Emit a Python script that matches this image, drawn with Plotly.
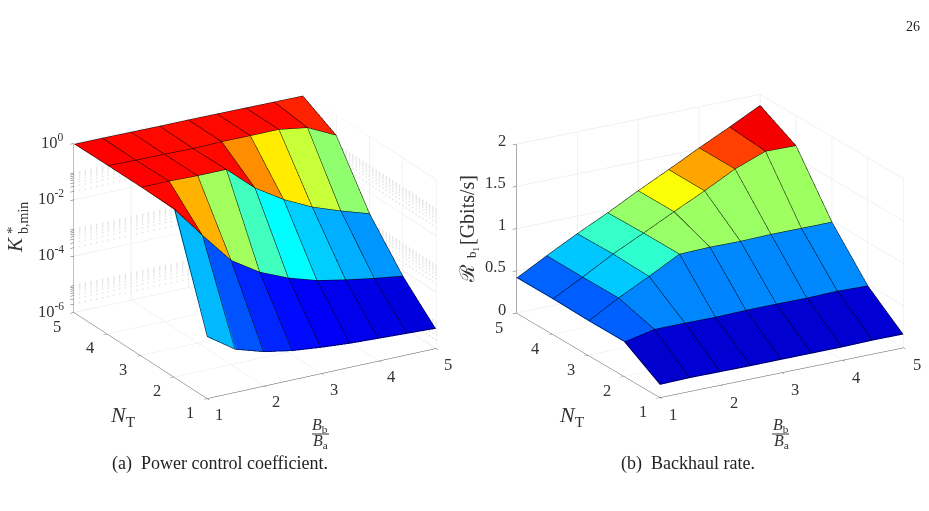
import math
import plotly.graph_objects as go

# Bandwidth ratio and antenna count sampled in the study
bandwidth_ratio = [1, 1.5, 2, 2.5, 3, 3.5, 4, 4.5, 5]
antennas = [1, 2, 3, 4, 5]

# log10 of the minimum power control coefficient, one row per antenna count
k_log10_nt1 = [-3.82, -4.49, -4.80, -4.98, -5.085, -5.165, -5.21, -5.255, -5.30]
k_log10_nt2 = [-0.05, -1.19, -2.30, -2.94, -3.37, -3.68, -3.88, -4.05, -4.19]
k_log10_nt3 = [-0.01, -0.03, -0.06, -0.06, -0.94, -1.57, -2.06, -2.42, -2.74]
k_log10_nt4 = [-0.01, -0.05, -0.06, -0.08, -0.06, -0.07, -0.07, -0.23, -0.72]
k_log10_nt5 = [-0.02, -0.03, -0.04, -0.05, -0.05, -0.06, -0.07, -0.08, -0.09]

# Backhaul rate in Gbits/s, one row per antenna count
rate_nt1 = [0.150, 0.158, 0.155, 0.152, 0.153, 0.153, 0.153, 0.160, 0.158]
rate_nt2 = [0.41, 0.485, 0.486, 0.481, 0.49, 0.49, 0.487, 0.495, 0.484]
rate_nt3 = [0.408, 0.606, 0.788, 0.978, 0.987, 0.983, 0.991, 0.989, 0.989]
rate_nt4 = [0.418, 0.603, 0.803, 0.977, 1.156, 1.329, 1.515, 1.65, 1.643]
rate_nt5 = [0.416, 0.606, 0.793, 0.967, 1.154, 1.331, 1.514, 1.688, 1.87]

x_ticks = [1, 2, 3, 4, 5]
y_ticks = [1, 2, 3, 4, 5]
k_tick_exponents = [-6, -4, -2, 0]
rate_ticks = [0, 0.5, 1, 1.5, 2]
rate_tick_labels = ["0", "0.5", "1", "1.5", "2"]

W, H = 929, 511
SERIF = "Liberation Serif"
INK = "#333333"
NBSP = "\u00a0"
JET = [[0, "rgb(0,0,128)"], [0.125, "rgb(0,0,255)"], [0.375, "rgb(0,255,255)"],
       [0.625, "rgb(255,255,0)"], [0.875, "rgb(255,0,0)"], [1, "rgb(128,0,0)"]]

LEFT_VIEW = (-30.2, 22.07)
RIGHT_VIEW = (-30.5, 20.3)
LEFT_ASPECT = (1.325, 1.325, 0.912)
RIGHT_ASPECT = (1.415, 1.415, 0.90)


def view_dir(view):
    az, el = math.radians(view[0]), math.radians(view[1])
    return math.sin(az) * math.cos(el), -math.cos(az) * math.cos(el), math.sin(el)


def faceted_surface(rows, colour_rows, cmin, cmax, scene, view, aspect, z_span, z_top, log_z=False):
    """Flat-coloured quads with black edges; a face takes its lowest-index corner's colour."""
    nx, ny = len(bandwidth_ratio), len(antennas)
    vx, vy, vz = [], [], []
    for j in range(ny):
        for i in range(nx):
            vx.append(bandwidth_ratio[i])
            vy.append(antennas[j])
            vz.append(rows[j][i])
    ti, tj, tk, cell = [], [], [], []
    for j in range(ny - 1):
        for i in range(nx - 1):
            a = j * nx + i
            b, c, d = a + 1, a + nx + 1, a + nx
            ti += [a, a]
            tj += [b, c]
            tk += [c, d]
            cell += [colour_rows[j][i]] * 2
    mesh = go.Mesh3d(x=vx, y=vy, z=vz, i=ti, j=tj, k=tk, intensity=cell, intensitymode="cell",
                     colorscale=JET, cmin=cmin, cmax=cmax, showscale=False, flatshading=True,
                     lighting=dict(ambient=1, diffuse=0, specular=0, fresnel=0, roughness=1),
                     hoverinfo="skip", scene=scene)

    # Edges sit a hair towards the viewer so the faces cannot swallow them,
    # but stay inside the axis ranges so they are never clipped
    gap = 0.012
    v = view_dir(view)
    nudge_x = v[0] * gap * 4 / aspect[0]
    nudge_y = v[1] * gap * 4 / aspect[1]
    nudge_z = v[2] * gap * z_span / aspect[2]

    def vertex(i, j):
        z = rows[j][i]
        z = z * 10 ** nudge_z if log_z else z + nudge_z
        return max(bandwidth_ratio[i] + nudge_x, 1), max(antennas[j] + nudge_y, 1), min(z, z_top)

    ex, ey, ez = [], [], []
    for j in range(ny):
        for i in range(nx):
            p = vertex(i, j)
            ex.append(p[0]); ey.append(p[1]); ez.append(p[2])
        ex.append(None); ey.append(None); ez.append(None)
    for i in range(nx):
        for j in range(ny):
            p = vertex(i, j)
            ex.append(p[0]); ey.append(p[1]); ez.append(p[2])
        ex.append(None); ey.append(None); ez.append(None)
    edges = go.Scatter3d(x=ex, y=ey, z=ez, mode="lines", line=dict(color="black", width=1),
                         hoverinfo="skip", showlegend=False, scene=scene)
    return [mesh, edges]


def minor_grid():
    """Dots where the minor gridlines cross on the two rear walls of the first box."""
    gx, gy, gz = [], [], []
    steps = [1 + 0.1 * n for n in range(41)]
    for e in k_tick_exponents[:-1]:
        for m in range(2, 10):
            z = m * 10.0 ** e
            for t in steps:
                gx += [t, 5]
                gy += [5, t]
                gz += [z, z]
    return go.Scatter3d(x=gx, y=gy, z=gz, mode="markers",
                        marker=dict(color="#e6e6e6", size=1, line=dict(width=0)),
                        hoverinfo="skip", showlegend=False, scene="scene")


def decade_grid():
    """Solid gridlines at the labelled decades of the first box."""
    gx, gy, gz = [], [], []
    for e in k_tick_exponents:
        z = 10.0 ** e
        gx += [1, 5, 5, None]
        gy += [5, 5, 1, None]
        gz += [z, z, z, None]
    return go.Scatter3d(x=gx, y=gy, z=gz, mode="lines", line=dict(color="#e4e4e4", width=1),
                        hoverinfo="skip", showlegend=False, scene="scene")


def tick_note(x, y, z, text, dx, dy, anchor="center"):
    return dict(x=x, y=y, z=z, text=text, showarrow=False, xshift=dx, yshift=dy, xanchor=anchor,
                yanchor="middle", font=dict(family=SERIF, size=16.5, color=INK))


def axis(rng, vals=None):
    return dict(range=rng, tickvals=vals, showticklabels=False, ticks="outside", ticklen=4,
                tickcolor="#555555", showline=True, linecolor="#555555", linewidth=1,
                gridcolor="#e4e4e4", gridwidth=1, showbackground=False, zeroline=False,
                showspikes=False, title=dict(text=""))


def camera(view, dist=3.0):
    v = view_dir(view)
    return dict(eye=dict(x=v[0] * dist, y=v[1] * dist, z=v[2] * dist),
                up=dict(x=0, y=0, z=1), center=dict(x=0, y=0, z=0),
                projection=dict(type="orthographic"))


def domain(cx, cy, w=420, h=400):
    return dict(x=[(cx - w / 2) / W, (cx + w / 2) / W],
                y=[1 - (cy + h / 2) / H, 1 - (cy - h / 2) / H])


def page_text(px, py, text, size=16.5, color=INK, angle=0, anchor="center"):
    return dict(x=px / W, y=1 - py / H, xref="paper", yref="paper", text=text, showarrow=False,
                textangle=angle, xanchor=anchor, yanchor="middle",
                font=dict(family=SERIF, size=size, color=color))


def aspect_dict(a):
    return dict(x=a[0], y=a[1], z=a[2])


k_rows = [k_log10_nt1, k_log10_nt2, k_log10_nt3, k_log10_nt4, k_log10_nt5]
k_values = [[10.0 ** e for e in row] for row in k_rows]
rate_rows = [rate_nt1, rate_nt2, rate_nt3, rate_nt4, rate_nt5]

fig = go.Figure()
fig.add_trace(minor_grid())
fig.add_trace(decade_grid())
fig.add_traces(faceted_surface(k_values, k_rows, -5.9, 0.85, "scene", LEFT_VIEW, LEFT_ASPECT, 6, 1.0, log_z=True))
fig.add_traces(faceted_surface(rate_rows, rate_rows, 0.0, 1.87, "scene2", RIGHT_VIEW, RIGHT_ASPECT, 2, 2.0))

left_notes = ([tick_note(t, 1, -6, str(t), 12, -16) for t in x_ticks]
              + [tick_note(1, t, -6, str(t), -17, -14) for t in y_ticks]
              + [tick_note(1, 5, e, f"10<sup>{e}</sup>", -8, 2, "right") for e in k_tick_exponents])
right_notes = ([tick_note(t, 1, 0, str(t), 13, -17) for t in x_ticks]
               + [tick_note(1, t, 0, str(t), -17, -14) for t in y_ticks]
               + [tick_note(1, 5, v, s, -8, 4, "right") for v, s in zip(rate_ticks, rate_tick_labels)])

# Every decade and its minor steps carry a tick; the rear-wall lines are drawn separately
k_tick_positions = [m * 10.0 ** e for e in k_tick_exponents[:-1] for m in range(1, 10)] + [1.0]
z_axis_left = axis([-6, 0], k_tick_positions)
z_axis_left.update(type="log", showgrid=False, ticklen=3)

fig.update_layout(
    width=W, height=H, margin=dict(l=0, r=0, t=0, b=0), paper_bgcolor="white", showlegend=False,
    scene=dict(domain=domain(255, 245.6), xaxis=axis([1, 5], x_ticks), yaxis=axis([1, 5], y_ticks),
               zaxis=z_axis_left, aspectmode="manual", aspectratio=aspect_dict(LEFT_ASPECT),
               camera=camera(LEFT_VIEW), annotations=left_notes),
    scene2=dict(domain=domain(710, 246), xaxis=axis([1, 5], x_ticks), yaxis=axis([1, 5], y_ticks),
                zaxis=axis([0, 2], rate_ticks), aspectmode="manual", aspectratio=aspect_dict(RIGHT_ASPECT),
                camera=camera(RIGHT_VIEW), annotations=right_notes),
    annotations=[
        page_text(913, 26, "26", size=14, color="#222222"),
        page_text(220, 463, f"(a){NBSP}{NBSP}Power control coefficient.", size=18, color="#222222"),
        page_text(688, 463, f"(b){NBSP}{NBSP}Backhaul rate.", size=18, color="#222222"),
        page_text(123, 416, "<i>N</i><sub>T</sub>", size=22),
        page_text(572, 416, "<i>N</i><sub>T</sub>", size=22),
        page_text(320, 425, "<i>B</i><sub>b</sub>", size=16),
        page_text(320, 441, "<i>B</i><sub>a</sub>", size=16),
        page_text(781, 425, "<i>B</i><sub>b</sub>", size=16),
        page_text(781, 441, "<i>B</i><sub>a</sub>", size=16),
        page_text(15, 245, "<i>K</i>", size=21, angle=-90),
        page_text(12, 230, "*", size=15, angle=-90),
        page_text(23, 218, "b,min", size=14, angle=-90),
        page_text(467, 274, "ℛ", size=20, angle=-90),
        page_text(473, 253, "b<sub>1</sub>", size=13, angle=-90),
        page_text(467, 210, "[Gbits/s]", size=20, angle=-90),
    ],
    shapes=[
        dict(type="line", xref="paper", yref="paper", x0=312 / W, x1=329 / W, y0=1 - 434 / H, y1=1 - 434 / H,
             line=dict(color="#333333", width=1)),
        dict(type="line", xref="paper", yref="paper", x0=772 / W, x1=789 / W, y0=1 - 434 / H, y1=1 - 434 / H,
             line=dict(color="#333333", width=1)),
    ],
)

fig.write_html("out.html", config=dict(displayModeBar=False))
